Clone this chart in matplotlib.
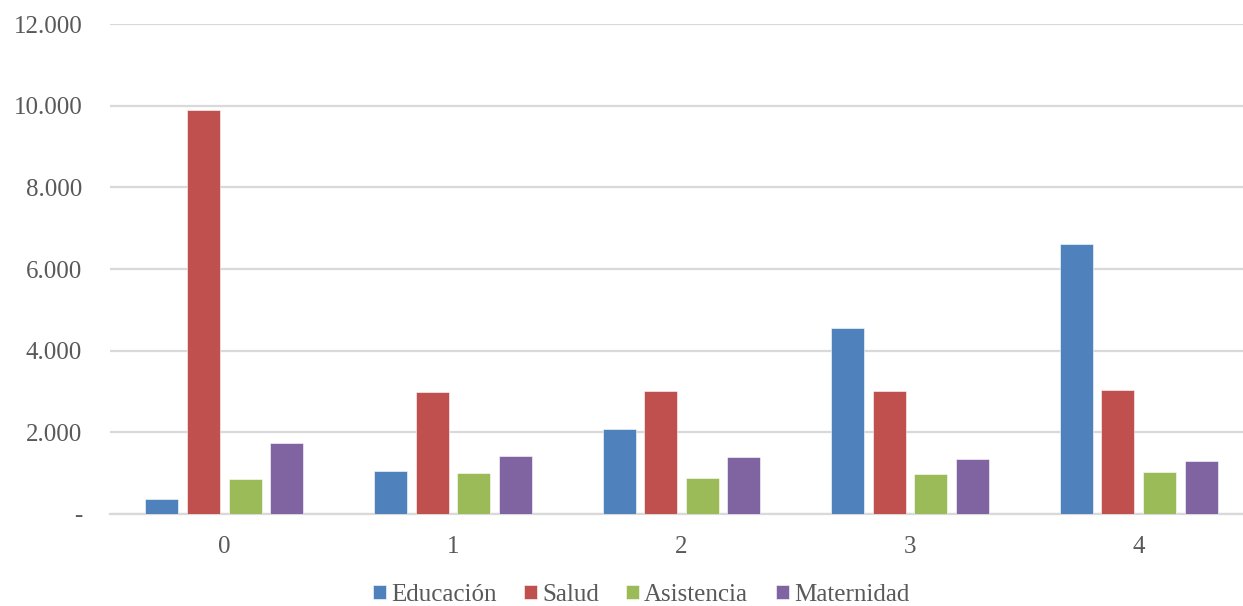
import numpy as np
import matplotlib
matplotlib.use("Agg")
import matplotlib.pyplot as plt
from matplotlib.ticker import FuncFormatter

categorias = ["0", "1", "2", "3", "4"]
series = ["Educación", "Salud", "Asistencia", "Maternidad"]
educacion = [370, 1050, 2075, 4545, 6610]
salud = [9910, 2990, 3005, 3000, 3030]
asistencia = [845, 995, 885, 970, 1025]
maternidad = [1745, 1410, 1395, 1350, 1290]
valores = [educacion, salud, asistencia, maternidad]
colores = ["#4F81BD", "#C0504D", "#9BBB59", "#8064A2"]

plt.rcParams["font.family"] = ["Liberation Serif", "DejaVu Serif"]
texto = "#595959"

fig = plt.figure(figsize=(12.43, 6.06), dpi=100)
ax = fig.add_axes([110 / 1243, 92.3 / 606, 1143 / 1243, 489.4 / 606])

x = np.arange(len(categorias))
paso = 0.182
ancho = 0.144
for i, (nombre, vals, col) in enumerate(zip(series, valores, colores)):
    ax.bar(x + (i - 1.5) * paso, vals, width=ancho, color=col,
           edgecolor="white", linewidth=0.4, label=nombre, zorder=3)

ax.set_xlim(-0.5, 4.5)
ax.set_ylim(0, 12000)
ax.set_yticks(range(0, 12001, 2000))
ax.yaxis.set_major_formatter(FuncFormatter(
    lambda v, p: "-" if v == 0 else f"{int(v):,}".replace(",", ".")))
ax.set_xticks(x)
ax.set_xticklabels(categorias)

ax.grid(axis="y", color="#d9d9d9", linewidth=1.6, zorder=0)
for s in ["top", "right", "left"]:
    ax.spines[s].set_visible(False)
ax.spines["bottom"].set_color("#d9d9d9")
ax.spines["bottom"].set_linewidth(1.6)
ax.tick_params(axis="both", length=0, labelsize=18, labelcolor=texto)
ax.tick_params(axis="y", pad=20)
ax.tick_params(axis="x", pad=16)

fig.legend(loc="center", bbox_to_anchor=(641 / 1243, 11 / 606), ncol=4,
           frameon=False, fontsize=18, labelcolor=texto,
           handlelength=0.52, handleheight=0.52, handletextpad=0.2,
           columnspacing=1.1)

fig.savefig("out.png", dpi=100)
